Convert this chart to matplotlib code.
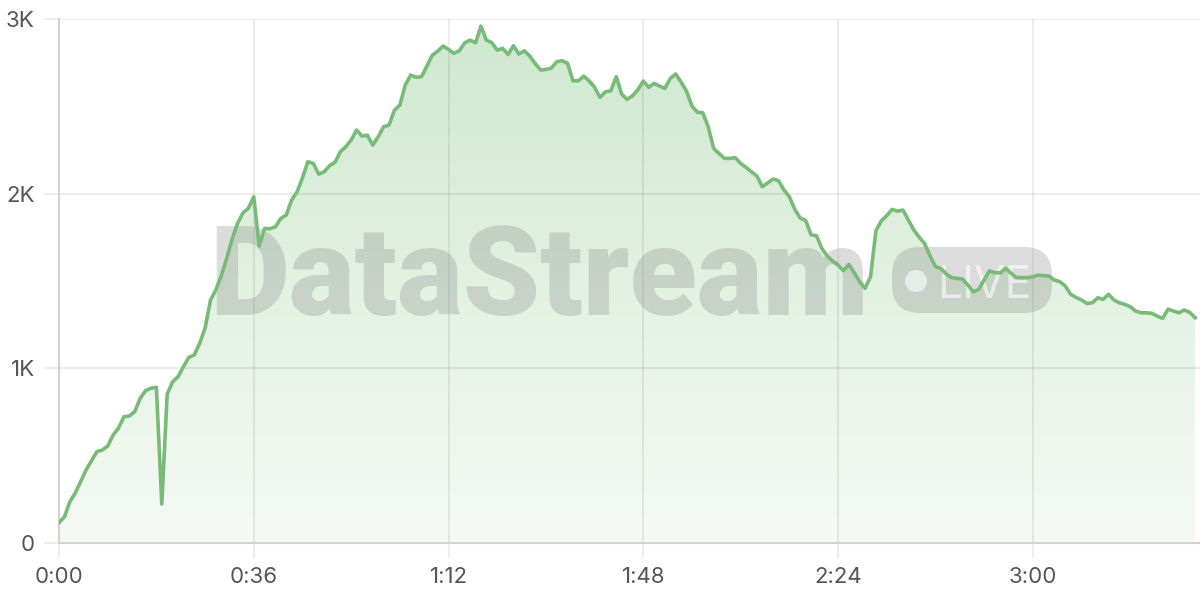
import numpy as np
import matplotlib
matplotlib.use("Agg")
import matplotlib.pyplot as plt
from matplotlib.patches import FancyBboxPatch, Circle
from matplotlib.transforms import IdentityTransform

# ---- data ----
step_seconds = 1
viewers = [
    116, 150, 236, 286, 351, 418, 470, 523, 532, 555,
    618, 658, 723, 727, 752, 828, 872, 886, 891, 223,
    853, 923, 952, 1009, 1063, 1076, 1143, 1230, 1390, 1450,
    1530, 1630, 1740, 1830, 1890, 1916, 1982, 1700, 1801, 1799,
    1810, 1858, 1877, 1963, 2010, 2090, 2183, 2173, 2112, 2125,
    2160, 2179, 2240, 2268, 2307, 2364, 2330, 2335, 2278, 2326,
    2383, 2393, 2478, 2507, 2622, 2679, 2666, 2670, 2730, 2793,
    2816, 2845, 2826, 2803, 2818, 2864, 2879, 2864, 2959, 2879,
    2864, 2822, 2832, 2797, 2847, 2799, 2818, 2788, 2746, 2708,
    2711, 2719, 2755, 2761, 2746, 2646, 2646, 2673, 2645, 2609,
    2551, 2583, 2589, 2670, 2570, 2540, 2560, 2595, 2645, 2609,
    2631, 2616, 2603, 2660, 2685, 2638, 2586, 2501, 2466, 2463,
    2383, 2259, 2230, 2202, 2202, 2206, 2173, 2150, 2125, 2101,
    2040, 2062, 2084, 2074, 2021, 1982, 1910, 1860, 1847, 1765,
    1759, 1687, 1643, 1614, 1591, 1559, 1595, 1547, 1496, 1458,
    1524, 1788, 1845, 1874, 1910, 1900, 1906, 1849, 1792, 1750,
    1715, 1643, 1582, 1572, 1540, 1519, 1515, 1511, 1477, 1438,
    1452, 1505, 1559, 1547, 1547, 1572, 1544, 1519, 1519, 1519,
    1524, 1534, 1530, 1528, 1505, 1496, 1471, 1424, 1406, 1391,
    1372, 1375, 1404, 1395, 1424, 1391, 1375, 1366, 1353, 1328,
    1318, 1318, 1315, 1299, 1286, 1339, 1328, 1318, 1334, 1320,
    1290,
]
x_ticks = [0, 36, 72, 108, 144, 180]
x_tick_labels = ["0:00", "0:36", "1:12", "1:48", "2:24", "3:00"]
y_ticks = [0, 1000, 2000, 3000]
y_tick_labels = ["0", "1K", "2K", "3K"]
watermark_text = "DataStream"
badge_text = "LIVE"

plt.rcParams["font.family"] = ["Inter", "DejaVu Sans"]

t = np.arange(len(viewers)) * step_seconds
v = np.array(viewers, dtype=float)

fig = plt.figure(figsize=(12, 6), dpi=100)
ax = fig.add_axes([59 / 1200, 57 / 600, 1141 / 1200, 524 / 600])
ax.set_xlim(0, 210.9)
ax.set_ylim(0, 3000)

# gradient fill under the line
poly = ax.fill_between(t, v, 0, color="none", lw=0)
n = 256
frac = np.linspace(0, 1, n).reshape(-1, 1)
top = np.array([0.81, 0.91, 0.81])
bot = np.array([0.965, 0.98, 0.963])
rgb = bot + (top - bot) * frac
img = np.dstack([rgb[:, 0:1], rgb[:, 1:2], rgb[:, 2:3]])
im = ax.imshow(img, extent=[t[0], t[-1], 0, 3000], origin="lower",
               aspect="auto", zorder=1, interpolation="bilinear")
im.set_clip_path(poly.get_paths()[0], transform=ax.transData)

# watermark (pixel coordinates)
ident = IdentityTransform()
ax.text(209, 285, watermark_text, transform=ident, fontsize=89,
        fontfamily="Roboto", fontweight="heavy", color="#808080",
        alpha=0.27, ha="left", va="baseline", zorder=3, clip_on=False)
badge = FancyBboxPatch((892, 287), 160, 66,
                       boxstyle="round,pad=0,rounding_size=28",
                       transform=ident, facecolor="#808080", alpha=0.27,
                       edgecolor="none", zorder=3, clip_on=False)
ax.add_patch(badge)
ax.add_patch(Circle((916, 319), 11, transform=ident, facecolor="white",
                    alpha=0.6, edgecolor="none", zorder=3.1, clip_on=False))
ax.text(937, 302, badge_text, transform=ident, fontsize=32,
        fontfamily="Inter", color="white", alpha=0.6, ha="left",
        va="baseline", zorder=3.1, clip_on=False)

# line
ax.plot(t, v, color="#78bb78", lw=2.6, zorder=4, solid_joinstyle="round")

# axes styling
ax.set_axisbelow(False)
ax.grid(True, color="#000000", alpha=0.085, lw=1.2)
for s in ["top", "right"]:
    ax.spines[s].set_visible(False)
for s in ["left", "bottom"]:
    ax.spines[s].set_color("#d2d2d2")
    ax.spines[s].set_linewidth(1.5)
    ax.spines[s].set_zorder(2.6)

ax.set_xticks(x_ticks)
ax.set_xticklabels(x_tick_labels)
ax.set_yticks(y_ticks)
ax.set_yticklabels(y_tick_labels)
ax.tick_params(axis="both", length=10.5, width=1.1, color="#e8e8e8",
               labelsize=16, labelcolor="#555555")
ax.tick_params(axis="y", pad=7)
ax.tick_params(axis="x", pad=7)

fig.savefig("out.png", dpi=100)
